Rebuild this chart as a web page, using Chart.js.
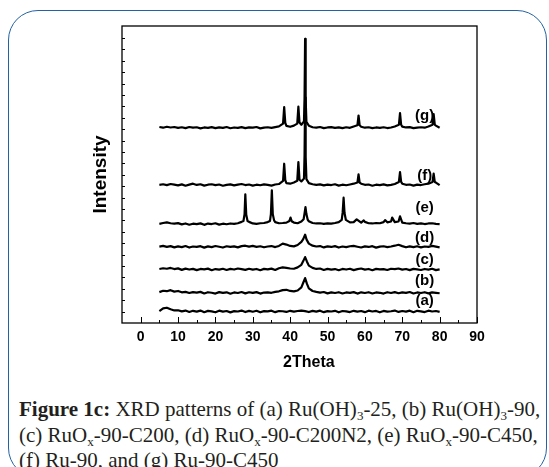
<!DOCTYPE html>
<html>
<head>
<meta charset="utf-8">
<script src="https://cdn.jsdelivr.net/npm/chart.js@4.4.1/dist/chart.umd.min.js"></script>
<style>
  body { margin: 0; background: #fff; }
  #box { position: absolute; left: 8px; top: 10px; width: 539px; height: 468px; box-sizing: border-box;
         border: 1.5px solid #2463a3; border-radius: 30px; }
  #wrap { position: absolute; left: 0; top: 0; width: 549px; height: 380px; }
  #caption { position: absolute; left: 19px; top: 397px; font-family: "Liberation Serif", "Times New Roman", serif;
             font-size: 21px; line-height: 25.5px; color: #231f20; white-space: nowrap; }
  #caption sub { font-size: 13px; vertical-align: -4px; line-height: 0; }
</style>
</head>
<body>
<div id="box"></div>
<div id="wrap"><canvas id="myChart" width="549" height="380"></canvas></div>
<div id="caption"><b>Figure 1c:</b> XRD patterns of (a) Ru(OH)<sub>3</sub>-25, (b) Ru(OH)<sub>3</sub>-90,<br>(c) RuO<sub>x</sub>-90-C200, (d) RuO<sub>x</sub>-90-C200N2, (e) RuO<sub>x</sub>-90-C450,<br>(f) Ru-90, and (g) Ru-90-C450</div>
<script>
// 2theta grid for the background of every pattern
var twoTheta = [5,6,7,8,9,10,11,12,13,14, 15,16,17,18,19,20,21,22,23,24, 25,26,27,28,29,30,31,32,33,34,
  35,36,37,38,39,40,41,42,43,44, 45,46,47,48,49,50,51,52,53,54, 55,56,57,58,59,60,61,62,63,64,
  65,66,67,68,69,70,71,72,73,74, 75,76,77,78,79,80];

var names = ['(a)', '(b)', '(c)', '(d)', '(e)', '(f)', '(g)'];
var offsets = [0, 1.63, 3.68, 5.66, 7.65, 11.07, 16.09];
var tagY = [0.9, 2.74, 4.58, 6.51, 9.14, 11.94, 17.2];

var xTickLabels = [0, 10, 20, 30, 40, 50, 60, 70, 80, 90];
var xMinorTicks = [5, 15, 25, 35, 45, 55, 65, 75, 85];
var yTicks = [0,1,2,3,4,5,6,7,8,9,10,11,12,13,14,15,16,17,18,19,20,21,22,23,24];

// background (arbitrary units)
var baseA = [0.05,0.28,0.34,0.2,0.1,0.12,0.02,0.09,-0.03,0.07, 0.0,0.09,-0.05,0.06,0.02,-0.06,0.08,0.0,0.05,-0.07,
  0.04,0.01,0.09,-0.04,0.06,-0.01,0.07,-0.06,0.04,0.02, 0.08,-0.05,0.05,0.03,-0.03,0.07,0.0,0.05,0.09,0.04,
  -0.04,0.06,0.0,0.08,-0.05,0.04,0.01,0.07,-0.06,0.05, 0.02,-0.04,0.07,0.0,0.05,-0.05,0.08,0.01,0.06,-0.06,
  0.06,0.0,0.03,0.09,-0.03,0.05,0.0,0.08,-0.05,0.07, 0.02,-0.04,0.08,0.01,0.05,-0.03];
var baseB = [0.08,0.2,0.16,0.25,0.12,0.18,0.06,0.1,0.0,0.08, 0.03,0.1,-0.04,0.07,0.02,-0.05,0.08,0.01,0.06,-0.06,
  0.05,0.0,0.09,-0.03,0.07,0.01,0.08,-0.05,0.04,0.06, 0.02,0.1,0.15,0.25,0.28,0.18,0.14,0.22,0.5,0.0,
  0.4,0.18,0.1,0.04,0.09,-0.03,0.06,0.0,0.07,-0.04, 0.05,0.01,0.08,-0.05,0.06,0.0,0.07,-0.04,0.05,0.02,
  -0.05,0.07,0.0,0.08,-0.02,0.06,0.01,0.09,-0.04,0.05, 0.0,0.07,-0.03,0.06,0.02,-0.02];
var baseC = [0.06,0.12,0.08,0.15,0.05,0.11,-0.02,0.09,0.01,0.07, -0.04,0.06,0.02,0.09,-0.05,0.05,0.0,0.08,-0.03,0.07,
  0.01,0.1,0.04,-0.02,0.08,0.0,0.06,-0.05,0.07,0.02, 0.09,-0.03,0.12,0.2,0.16,0.1,0.08,0.2,0.42,0.0,
  0.35,0.15,0.06,0.1,-0.03,0.07,0.0,0.05,-0.05,0.06, 0.01,0.08,-0.04,0.05,0.1,0.0,0.06,-0.05,0.07,0.02,
  0.05,-0.03,0.08,0.04,0.1,0.0,0.06,-0.04,0.07,0.02, -0.03,0.06,0.0,0.08,-0.04,0.03];
var baseD = [0.04,0.1,0.02,0.08,-0.03,0.06,0.0,0.09,-0.04,0.05, 0.02,0.08,-0.05,0.06,0.0,0.09,0.03,-0.04,0.07,0.01,
  0.06,-0.03,0.08,0.12,0.04,0.1,0.02,0.07,-0.02,0.05, 0.09,0.0,0.1,0.3,0.22,0.1,0.06,0.18,0.45,0.0,
  0.3,0.12,0.05,0.09,-0.03,0.06,0.01,0.08,-0.04,0.05, 0.0,0.07,0.1,0.03,-0.04,0.06,0.01,0.08,-0.05,0.04,
  0.07,0.0,0.05,0.12,0.2,0.08,-0.02,0.06,0.0,0.07, -0.03,0.05,0.02,0.1,0.04,-0.02];
var baseE = [0.05,0.12,0.18,0.1,0.06,0.11,0.0,0.08,-0.03,0.06, 0.02,0.09,-0.04,0.07,0.03,0.1,-0.02,0.06,0.01,0.08,
  0.04,0.1,0.22,0.0,0.22,0.08,0.05,0.1,0.12,0.2, 0.0,0.2,0.1,0.12,0.15,0.0,0.16,0.1,0.25,0.0,
  0.28,0.12,0.08,0.1,0.05,0.09,0.06,0.12,0.2,0.0, 0.25,0.18,0.2,0.0,0.15,0.22,0.1,0.08,0.12,0.1,
  0.2,0.18,0.25,0.2,0.25,0.15,0.1,0.07,0.12,0.05, 0.09,0.03,0.08,0.1,0.04,0.02];
var baseF = [0.05,0.1,0.02,0.12,0.06,0.0,0.09,-0.03,0.07,0.15, 0.04,0.1,-0.02,0.06,0.1,0.02,0.08,-0.03,0.05,0.09,
  0.0,0.07,0.12,0.03,0.08,-0.02,0.06,0.01,0.09,0.04, -0.02,0.08,0.12,0.0,0.2,0.15,0.25,0.0,0.35,0.0,
  0.2,0.1,0.05,0.09,0.0,0.07,0.03,0.1,-0.02,0.06, 0.01,0.08,0.15,0.0,0.15,0.05,0.08,-0.03,0.06,0.02,
  0.09,0.0,0.05,0.12,0.0,0.15,0.05,0.08,-0.02,0.07, 0.03,0.1,0.15,0.0,0.25,0.02];
var baseG = [0.1,0.04,0.12,0.06,0.1,0.02,0.08,0.0,0.1,0.05, 0.08,-0.02,0.06,0.03,0.09,0.0,0.07,0.02,0.1,-0.01,
  0.06,0.02,0.09,0.0,0.07,0.04,0.1,-0.02,0.05,0.08, 0.02,0.09,0.15,0.0,0.2,0.12,0.22,0.0,0.3,0.0,
  0.22,0.08,0.04,0.1,0.0,0.06,0.09,0.02,0.07,0.0, 0.08,0.03,0.15,0.0,0.12,0.04,0.08,0.0,0.06,0.03,
  0.08,0.01,0.06,0.15,0.0,0.14,0.06,0.09,0.0,0.05, 0.08,0.04,0.14,0.0,0.22,0.03];

// reflections [2theta, height above background]
var peaksA = [];
var peaksB = [[43.5,0.9],[44.0,1.31],[44.5,0.8]];
var peaksC = [[43.5,0.75],[44.0,1.1],[44.5,0.7]];
var peaksD = [[43.5,0.7],[44.0,1.09],[44.4,0.65]];
var peaksE = [[27.5,0.3],[27.8,0.9],[28.0,2.63],[28.25,0.85],[28.6,0.3],
  [34.6,0.3],[34.85,0.9],[35.1,2.98],[35.35,0.9],[35.7,0.35],
  [39.8,0.3],[40.1,0.59],[40.4,0.28],
  [43.6,0.45],[43.85,0.95],[44.1,1.52],[44.35,0.9],[44.7,0.4],
  [53.8,0.4],[54.05,1.05],[54.3,2.34],[54.55,1.0],[54.9,0.4],
  [57.8,0.44],[59.7,0.35],[65.4,0.38],[67.3,0.59],[69.4,0.7]];
var peaksF = [[38.1,0.4],[38.4,1.9],[38.7,0.45],[41.9,0.4],[42.2,2.04],[42.5,0.5],
  [43.7,0.6],[43.85,2.6],[44.0,7.7],[44.15,2.5],[44.35,0.55],[58.0,0.25],[58.3,0.96],[58.6,0.25],
  [69.1,0.3],[69.4,1.17],[69.7,0.3],[78.1,0.3],[78.4,1.03],[78.7,0.3]];
var peaksG = [[38.1,0.4],[38.4,1.84],[38.7,0.45],[41.9,0.4],[42.2,1.9],[42.5,0.5],
  [43.7,0.6],[43.85,2.6],[44.0,7.84],[44.15,2.5],[44.35,0.55],[58.0,0.25],[58.3,1.11],[58.6,0.25],
  [69.1,0.3],[69.4,1.31],[69.7,0.3],[78.1,0.3],[78.4,1.23],[78.7,0.3]];

var bases = [baseA, baseB, baseC, baseD, baseE, baseF, baseG];
var peaks = [peaksA, peaksB, peaksC, peaksD, peaksE, peaksF, peaksG];

function buildSeries(base, pk, off) {
    var pts = [];
    twoTheta.forEach(function (x, i) {
        var near = pk.some(function (p) { return Math.abs(p[0] - x) < 0.25; });
        if (!near) pts.push({x: x, y: base[i] + off});
    });
    pk.forEach(function (p) { pts.push({x: p[0], y: p[1] + off}); });
    pts.sort(function (a, b) { return a.x - b.x; });
    return pts;
}

var font = '"Liberation Sans", Arial, sans-serif';

var decor = {
    id: 'decor',
    afterDraw: function (chart) {
        var ctx = chart.ctx, a = chart.chartArea;
        var xs = chart.scales.x, ys = chart.scales.y;
        ctx.save();
        ctx.strokeStyle = '#000';
        ctx.lineWidth = 1.3;
        ctx.strokeRect(a.left, a.top, a.right - a.left, a.bottom - a.top);
        ctx.lineWidth = 1;
        ctx.beginPath();
        xTickLabels.forEach(function (v) {
            var px = Math.round(xs.getPixelForValue(v)) + 0.5;
            ctx.moveTo(px, a.bottom); ctx.lineTo(px, a.bottom - 6);
        });
        xMinorTicks.forEach(function (v) {
            var px = Math.round(xs.getPixelForValue(v)) + 0.5;
            ctx.moveTo(px, a.bottom); ctx.lineTo(px, a.bottom - 3);
        });
        yTicks.forEach(function (v) {
            var py = Math.round(ys.getPixelForValue(v)) + 0.5;
            ctx.moveTo(a.left, py); ctx.lineTo(a.left + 3, py);
        });
        ctx.stroke();

        // curve tags
        ctx.fillStyle = '#000';
        ctx.font = 'bold 15px ' + font;
        ctx.textAlign = 'center';
        ctx.textBaseline = 'middle';
        names.forEach(function (n, i) {
            ctx.fillText(n, xs.getPixelForValue(76), ys.getPixelForValue(tagY[i]));
        });

        // axis titles
        ctx.font = 'bold 16px ' + font;
        ctx.fillText('2Theta', xs.getPixelForValue(45), a.bottom + 40);
        ctx.translate(a.left - 21, (a.top + a.bottom) / 2);
        ctx.rotate(-Math.PI / 2);
        ctx.font = 'bold 19px ' + font;
        ctx.fillText('Intensity', 0, 0);
        ctx.restore();
    }
};

function makeGraph() {
    var ctx = document.getElementById('myChart').getContext('2d');
    var datasets = names.map(function (n, i) {
        return {
            label: n,
            data: buildSeries(bases[i], peaks[i], offsets[i]),
            borderColor: '#000',
            borderWidth: 2.2,
            borderJoinStyle: 'round',
            pointRadius: 0,
            tension: 0
        };
    });
    var chart = new Chart(ctx, {
        type: 'line',
        data: { datasets: datasets },
        options: {
            responsive: false,
            animation: false,
            devicePixelRatio: 1,
            layout: { padding: { left: 122, top: 26, right: 72, bottom: 5 } },
            plugins: { legend: { display: false }, tooltip: { enabled: false } },
            scales: {
                x: {
                    type: 'linear', min: -5, max: 90,
                    afterBuildTicks: function (s) { s.ticks = xTickLabels.map(function (v) { return {value: v}; }); },
                    afterFit: function (s) { s.height = 52; },
                    ticks: { color: '#000', padding: 6, maxRotation: 0, autoSkip: false,
                             font: { family: font, size: 14, weight: 'bold' } },
                    grid: { display: false, drawTicks: false },
                    border: { display: false }
                },
                y: {
                    type: 'linear', min: -1, max: 25.05,
                    afterFit: function (s) { s.width = 0; },
                    ticks: { display: false },
                    grid: { display: false, drawTicks: false },
                    border: { display: false }
                }
            }
        },
        plugins: [decor]
    });
}

makeGraph();
</script>
</body>
</html>
